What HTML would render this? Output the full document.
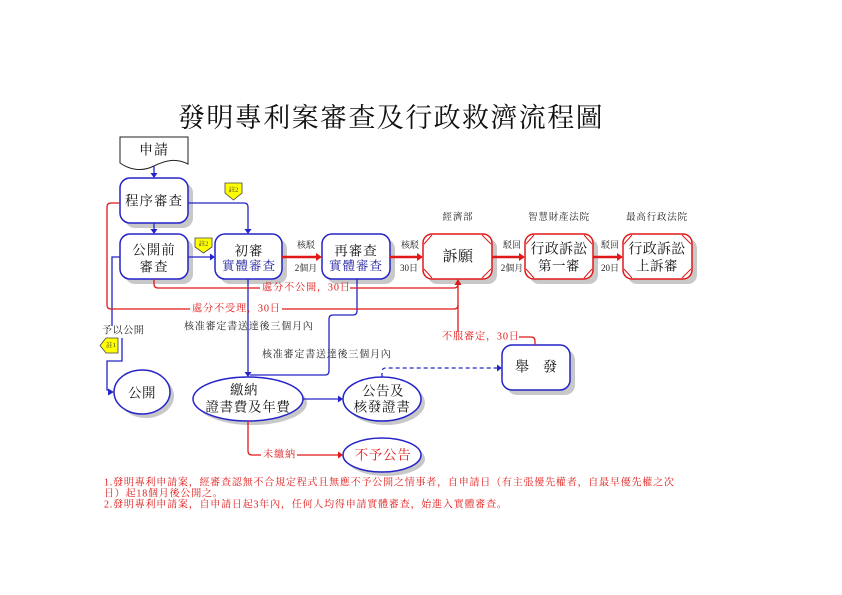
<!DOCTYPE html>
<html>
<head>
<meta charset="utf-8">
<style>
html,body{margin:0;padding:0;background:#fff;}
svg{display:block;}
text{font-family:"Liberation Serif","Noto Serif CJK SC","Noto Serif CJK SC",serif;}
</style>
</head>
<body>
<svg width="842" height="595" viewBox="0 0 842 595" xmlns="http://www.w3.org/2000/svg">
<rect width="842" height="595" fill="#fff"/>

<!-- Title -->
<text x="391" y="118" font-size="27" letter-spacing="1.4" text-anchor="middle" dominant-baseline="central" fill="#111">發明專利案審查及行政救濟流程圖</text>

<!-- Shadows -->
<g fill="#c8c8c8">
  <rect x="125" y="183" width="68" height="45" rx="10"/>
  <rect x="125" y="239" width="68" height="45" rx="10"/>
  <rect x="220" y="239" width="67" height="45" rx="10"/>
  <rect x="327" y="239" width="68" height="45" rx="10"/>
  <rect x="428" y="239" width="69" height="45" rx="9"/>
  <rect x="530" y="239" width="68" height="45" rx="9"/>
  <rect x="628" y="239" width="69" height="45" rx="9"/>
  <rect x="507" y="350" width="68" height="45" rx="10"/>
  <ellipse cx="146" cy="396" rx="28" ry="22"/>
  <ellipse cx="252" cy="403" rx="55" ry="22"/>
  <ellipse cx="386" cy="403" rx="39" ry="22"/>
  <ellipse cx="386" cy="459" rx="39" ry="17"/>
</g>

<!-- Document 申請 -->
<path d="M120,137 H188 V164 C176,158 166,160 154,166 C142,172 130,170 120,163 Z" fill="#fff" stroke="#222" stroke-width="1"/>
<text x="154" y="151" font-size="14" letter-spacing="1" text-anchor="middle" dominant-baseline="central" fill="#111">申請</text>

<!-- Blue boxes -->
<g fill="#fff" stroke="#2424c8" stroke-width="1.5">
  <rect x="120" y="178" width="68" height="45" rx="10"/>
  <rect x="120" y="234" width="68" height="45" rx="10"/>
  <rect x="215" y="234" width="67" height="45" rx="10"/>
  <rect x="322" y="234" width="68" height="45" rx="10"/>
  <rect x="502" y="345" width="68" height="45" rx="10"/>
</g>
<text x="154" y="201" font-size="13.5" letter-spacing="1" text-anchor="middle" dominant-baseline="central" fill="#111">程序審查</text>
<text x="154" y="250" font-size="13.5" letter-spacing="1" text-anchor="middle" dominant-baseline="central" fill="#111">公開前</text>
<text x="154" y="267" font-size="13.5" letter-spacing="1" text-anchor="middle" dominant-baseline="central" fill="#111">審查</text>
<text x="249" y="251" font-size="13.5" letter-spacing="1" text-anchor="middle" dominant-baseline="central" fill="#111">初審</text>
<text x="249" y="266" font-size="12.5" letter-spacing="1" text-anchor="middle" dominant-baseline="central" fill="#1c1c9c">實體審查</text>
<text x="356" y="251" font-size="13.5" letter-spacing="1" text-anchor="middle" dominant-baseline="central" fill="#111">再審查</text>
<text x="356" y="266" font-size="12.5" letter-spacing="1" text-anchor="middle" dominant-baseline="central" fill="#1c1c9c">實體審查</text>
<text x="536" y="368" font-size="14" text-anchor="middle" dominant-baseline="central" fill="#111">舉　發</text>

<!-- Red beveled boxes -->
<g fill="#fff" stroke="#e01818" stroke-width="1.5">
  <rect x="423" y="234" width="69" height="45" rx="9"/>
  <rect x="525" y="234" width="68" height="45" rx="9"/>
  <rect x="623" y="234" width="69" height="45" rx="9"/>
</g>
<g stroke="#e01818" stroke-width="1" fill="none">
  <path d="M424,244 L432,235 M482,235 L491,244 M424,269 L432,278 M482,278 L491,269"/>
  <path d="M526,244 L534,235 M584,235 L592,244 M526,269 L534,278 M584,278 L592,269"/>
  <path d="M624,244 L632,235 M682,235 L691,244 M624,269 L632,278 M682,278 L691,269"/>
</g>
<text x="458" y="257" font-size="15" letter-spacing="0.5" text-anchor="middle" dominant-baseline="central" fill="#111">訴願</text>
<text x="559" y="250" font-size="14" letter-spacing="0.3" text-anchor="middle" dominant-baseline="central" fill="#111">行政訴訟</text>
<text x="559" y="266" font-size="13.5" letter-spacing="0.5" text-anchor="middle" dominant-baseline="central" fill="#111">第一審</text>
<text x="657" y="250" font-size="14" letter-spacing="0.3" text-anchor="middle" dominant-baseline="central" fill="#111">行政訴訟</text>
<text x="657" y="266" font-size="13.5" letter-spacing="0.5" text-anchor="middle" dominant-baseline="central" fill="#111">上訴審</text>

<!-- Header labels -->
<g font-size="9.5" letter-spacing="0.8" text-anchor="middle" fill="#222">
  <text x="458" y="218" dominant-baseline="central">經濟部</text>
  <text x="559" y="218" dominant-baseline="central">智慧財產法院</text>
  <text x="657" y="218" dominant-baseline="central">最高行政法院</text>
</g>

<!-- Ellipses -->
<g fill="#fff" stroke="#2424c8" stroke-width="1.5">
  <ellipse cx="142" cy="392" rx="28" ry="22"/>
  <ellipse cx="248" cy="399" rx="55" ry="22"/>
  <ellipse cx="382" cy="399" rx="39" ry="22"/>
  <ellipse cx="382" cy="455" rx="39" ry="17"/>
</g>
<text x="142" y="393" font-size="13.5" letter-spacing="0.5" text-anchor="middle" dominant-baseline="central" fill="#111">公開</text>
<text x="244" y="390" font-size="13.5" letter-spacing="0.5" text-anchor="middle" dominant-baseline="central" fill="#111">繳納</text>
<text x="248" y="407" font-size="13.5" letter-spacing="0.7" text-anchor="middle" dominant-baseline="central" fill="#111">證書費及年費</text>
<text x="383" y="391" font-size="13.5" letter-spacing="0.5" text-anchor="middle" dominant-baseline="central" fill="#111">公告及</text>
<text x="382" y="407" font-size="13.5" letter-spacing="0.7" text-anchor="middle" dominant-baseline="central" fill="#111">核發證書</text>
<text x="383" y="455" font-size="13.5" letter-spacing="0.7" text-anchor="middle" dominant-baseline="central" fill="#e01818">不予公告</text>

<!-- Blue connectors -->
<g stroke="#2424c8" stroke-width="1.3" fill="none">
  <path d="M154,166 V174"/>
  <path d="M154,223 V230"/>
  <path d="M188,203 H244 Q248,203 248,207 V230"/>
  <path d="M188,257 H211"/>
  <path d="M120,257 H112 V326"/>
  <path d="M122,338 V361 H107 V390 H109"/>
  <path d="M248,279 V373"/>
  <path d="M357,279 V311 Q357,315 353,315 H333 Q329,315 329,319 V371 Q329,375 325,375 H250"/>
  <path d="M303,399 H339"/>
  <path d="M382,377 V372 Q382,368 386,368 H498" stroke-dasharray="4,3"/>
</g>
<g fill="#2424c8">
  <polygon points="150.5,173 157.5,173 154,178"/>
  <polygon points="150.5,229 157.5,229 154,234"/>
  <polygon points="244.5,229 251.5,229 248,234"/>
  <polygon points="210,253.5 210,260.5 215,257"/>
  <polygon points="108,388.5 108,395.5 114,392"/>
  <polygon points="244.5,372 251.5,372 248,377"/>
  <polygon points="338,395.5 338,402.5 343,399"/>
  <polygon points="497,364.5 497,371.5 502,368"/>
</g>

<!-- Red connectors -->
<g stroke="#e01818" stroke-width="2.5" fill="none">
  <path d="M282,257 H317"/>
  <path d="M390,257 H418"/>
  <path d="M492,257 H520"/>
  <path d="M593,257 H618"/>
</g>
<g fill="#e01818">
  <polygon points="316,253 316,261 322,257"/>
  <polygon points="417,253 417,261 423,257"/>
  <polygon points="519,253 519,261 525,257"/>
  <polygon points="617,253 617,261 623,257"/>
  <polygon points="454.5,285 461.5,285 458,279"/>
  <polygon points="338,451.5 338,458.5 343,455"/>
</g>
<g stroke="#e01818" stroke-width="1.3" fill="none">
  <path d="M154,279 V284 Q154,288 158,288 H260"/>
  <path d="M350,288 H454 Q458,288 458,284"/>
  <path d="M120,203 H111 Q107,203 107,207 V305 Q107,309 111,309 H190"/>
  <path d="M282,309 H454 Q458,309 458,305"/>
  <path d="M458,332 V284"/>
  <path d="M535,345 V341 Q535,337 531,337 H519"/>
  <path d="M248,421 V451 Q248,455 252,455 H261"/>
  <path d="M297,455 H339"/>
</g>

<!-- Red labels -->
<g font-size="10.2" letter-spacing="0.8" fill="#e01818">
  <text x="262" y="288" dominant-baseline="central">處分不公開，30日</text>
  <text x="192" y="309" dominant-baseline="central">處分不受理，30日</text>
  <text x="442" y="337" dominant-baseline="central">不服審定，30日</text>
  <text x="263" y="455" dominant-baseline="central">未繳納</text>
</g>

<!-- Small black labels -->
<g font-size="9" fill="#222">
  <text x="306" y="245" text-anchor="middle" dominant-baseline="central">核駁</text>
  <text x="306" y="268" text-anchor="middle" dominant-baseline="central">2個月</text>
  <text x="410" y="245" text-anchor="middle" dominant-baseline="central">核駁</text>
  <text x="409" y="268" text-anchor="middle" dominant-baseline="central">30日</text>
  <text x="512" y="245" text-anchor="middle" dominant-baseline="central">駁回</text>
  <text x="512" y="268" text-anchor="middle" dominant-baseline="central">2個月</text>
  <text x="610" y="245" text-anchor="middle" dominant-baseline="central">駁回</text>
  <text x="610" y="268" text-anchor="middle" dominant-baseline="central">20日</text>
</g>
<g font-size="10" letter-spacing="0.8" fill="#222">
  <text x="184" y="327" dominant-baseline="central">核准審定書送達後三個月內</text>
  <text x="262" y="355" dominant-baseline="central">核准審定書送達後三個月內</text>
  <text x="102" y="331" dominant-baseline="central" letter-spacing="0.6">予以公開</text>
</g>

<!-- Note markers -->
<g stroke="#444" stroke-width="0.8" fill="#ffff00">
  <polygon points="225,183 242,183 242,193 233.5,200 225,193"/>
  <polygon points="195,238 212,238 212,247 203.5,253 195,247"/>
  <polygon points="118,338 118,353 106,353 100,345.5 106,338"/>
</g>
<g font-size="6.5" fill="#333" text-anchor="middle">
  <text x="233.5" y="190" dominant-baseline="central">註2</text>
  <text x="203.5" y="244" dominant-baseline="central">註2</text>
  <text x="111" y="345.5" dominant-baseline="central">註1</text>
</g>

<!-- Footnotes -->
<g font-size="10" letter-spacing="0.8" fill="#e01818">
  <text x="104" y="483" dominant-baseline="central">1.發明專利申請案，經審查認無不合規定程式且無應不予公開之情事者，自申請日（有主張優先權者，自最早優先權之次</text>
  <text x="104" y="494" dominant-baseline="central">日）起18個月後公開之。</text>
  <text x="104" y="505" dominant-baseline="central">2.發明專利申請案，自申請日起3年內，任何人均得申請實體審查，始進入實體審查。</text>
</g>
</svg>
</body>
</html>
